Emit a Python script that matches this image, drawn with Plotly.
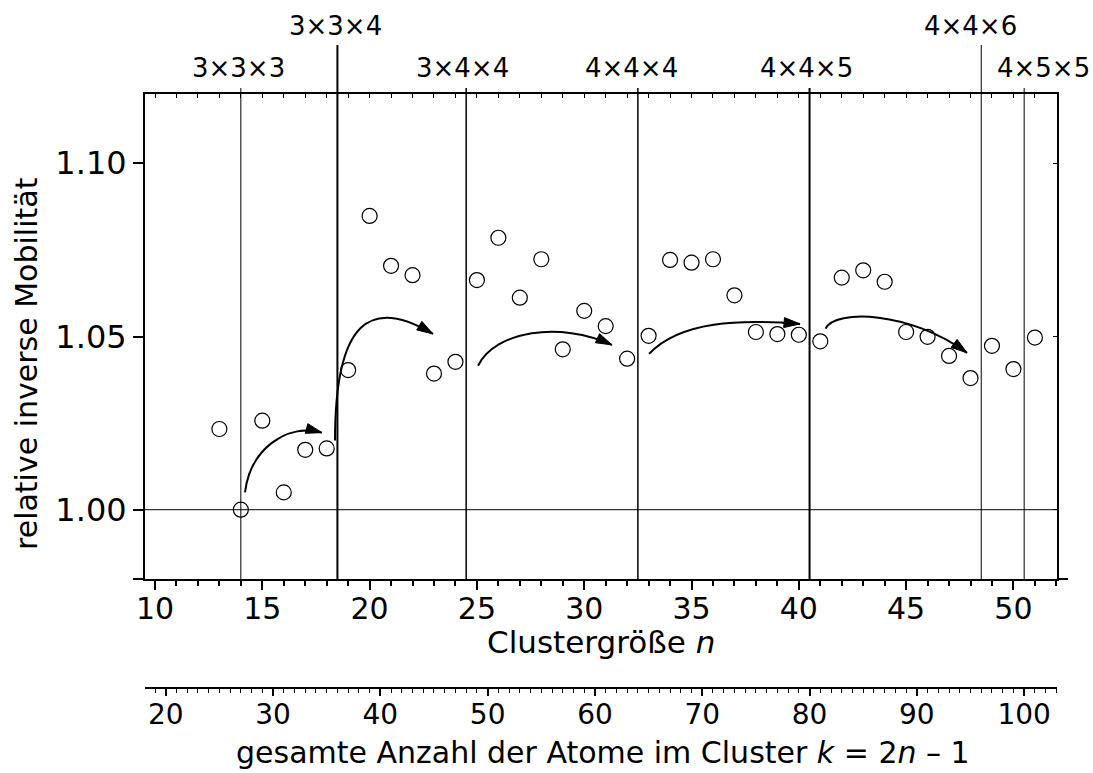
import math
import plotly.graph_objects as go

# ---------------- data ----------------
n_vals = list(range(13, 52))
inv_mob = [1.0233, 1.0000, 1.0257, 1.0050, 1.0173, 1.0177, 1.0403, 1.0848, 1.0704, 1.0677,
           1.0393, 1.0427, 1.0663, 1.0785, 1.0612, 1.0723, 1.0463, 1.0574, 1.0530, 1.0436,
           1.0502, 1.0721, 1.0713, 1.0723, 1.0619, 1.0513, 1.0507, 1.0505, 1.0486, 1.0670,
           1.0691, 1.0658, 1.0513, 1.0499, 1.0444, 1.0380, 1.0473, 1.0406, 1.0497]

shell_n = [14, 18.5, 24.5, 32.5, 40.5, 48.5, 50.5]
shell_width = [1, 2, 1.5, 1.5, 2, 1, 1]
shell_tall = [False, True, False, False, False, True, False]
shell_labels = ["3×3×3", "3×3×4", "3×4×4", "4×4×4", "4×4×5", "4×4×6", "4×5×5"]
label_n = [13.87, 18.43, 24.33, 32.20, 40.34, 48.02, 51.38]

# curved arrows: cubic Bezier control points (n, value)
arrow1 = [(14.194, 1.00498), (14.427, 1.01707), (16.058, 1.02513), (17.782, 1.02225)]
arrow2 = [(18.388, 1.01995), (18.388, 1.05449), (20.019, 1.06169), (22.954, 1.05075)]
arrow3 = [(25.051, 1.04154), (25.843, 1.05162), (28.872, 1.05449), (31.295, 1.04758)]
arrow4 = [(33.019, 1.04499), (34.464, 1.05449), (37.260, 1.05507), (40.056, 1.05363)]
arrow5 = [(41.244, 1.05227), (41.687, 1.05794), (45.182, 1.05737), (47.838, 1.04528)]
arrows = [arrow1, arrow2, arrow3, arrow4, arrow5]

y_ticks = [1.00, 1.05, 1.10]
y_ticktext = ["1.00", "1.05", "1.10"]

# ---------------- layout constants ----------------
W, H = 1093, 773
ML, MR, MT, MB = 145, 36, 94, 60
PW = W - ML - MR
PH = H - MT - MB
BOX_BOTTOM_PX = 579
SEC_AXIS_PX = 688
y_dom0 = (H - MB - BOX_BOTTOM_PX) / PH
x2_pos = (H - MB - SEC_AXIS_PX) / PH

x_range = [9.534, 52.03]
y_range = [0.98, 1.12]
k_range = [2 * x_range[0] - 1, 2 * x_range[1] - 1]

ppx = PW / (x_range[1] - x_range[0])
ppy = (PH * (1 - y_dom0)) / (y_range[1] - y_range[0])

FONT = "DejaVu Sans, Liberation Sans, Arial, sans-serif"
XTICKFONT = dict(family=FONT, size=30, color="black")
X2TICKFONT = dict(family=FONT, size=28, color="black")
YTICKFONT = dict(family=FONT, size=32, color="black")


def py(px_from_top):
    return (H - MB - px_from_top) / PH


def pxx(px_from_left):
    return (px_from_left - ML) / PW


fig = go.Figure()

fig.add_trace(go.Scatter(
    x=n_vals, y=inv_mob, mode="markers",
    marker=dict(symbol="circle-open", size=15, color="black", line=dict(width=1.2, color="black")),
    hoverinfo="skip", showlegend=False, xaxis="x", yaxis="y"))

# invisible helper traces so auxiliary axes are drawn
fig.add_trace(go.Scatter(x=[2 * n - 1 for n in n_vals], y=inv_mob, mode="markers",
                         marker=dict(opacity=0), hoverinfo="skip", showlegend=False,
                         xaxis="x2", yaxis="y"))
fig.add_trace(go.Scatter(x=n_vals, y=inv_mob, mode="markers",
                         marker=dict(opacity=0), hoverinfo="skip", showlegend=False,
                         xaxis="x3", yaxis="y"))
fig.add_trace(go.Scatter(x=n_vals, y=inv_mob, mode="markers",
                         marker=dict(opacity=0), hoverinfo="skip", showlegend=False,
                         xaxis="x", yaxis="y2"))

shapes = []
shapes.append(dict(type="line", xref="paper", yref="y", x0=0, x1=1, y0=1.0, y1=1.0,
                   line=dict(color="black", width=1)))
for xn, w, tall in zip(shell_n, shell_width, shell_tall):
    top_px = 45 if tall else 88
    shapes.append(dict(type="line", xref="x", yref="paper", x0=xn, x1=xn,
                       y0=y_dom0, y1=py(top_px),
                       line=dict(color="black", width=w)))
shapes.append(dict(type="line", xref="paper", yref="paper", x0=-12 / PW, x1=0,
                   y0=y_dom0, y1=y_dom0, line=dict(color="black", width=2)))
shapes.append(dict(type="line", xref="paper", yref="paper", x0=1, x1=1 + 11 / PW,
                   y0=y_dom0, y1=y_dom0, line=dict(color="black", width=2)))

HEAD_L, HEAD_W = 16, 10
for pts in arrows:
    (x0, y0), (x1, y1), (x2, y2), (x3, y3) = pts
    shapes.append(dict(type="path", xref="x", yref="y",
                       path=f"M {x0},{y0} C {x1},{y1} {x2},{y2} {x3},{y3}",
                       line=dict(color="black", width=2)))
    dxp = (x3 - x2) * ppx
    dyp = (y3 - y2) * ppy
    L = math.hypot(dxp, dyp)
    ux, uy = dxp / L, dyp / L
    bx = x3 - HEAD_L * ux / ppx
    by = y3 - HEAD_L * uy / ppy
    qx, qy = -uy, ux
    c1x = bx + qx * HEAD_W / 2 / ppx
    c1y = by + qy * HEAD_W / 2 / ppy
    c2x = bx - qx * HEAD_W / 2 / ppx
    c2y = by - qy * HEAD_W / 2 / ppy
    shapes.append(dict(type="path", xref="x", yref="y",
                       path=f"M {x3},{y3} L {c1x},{c1y} L {c2x},{c2y} Z",
                       fillcolor="black", line=dict(color="black", width=1)))

annotations = []
for lab, xn, tall in zip(shell_labels, label_n, shell_tall):
    ypx = 26 if tall else 68
    annotations.append(dict(text=lab, x=xn, xref="x", y=py(ypx), yref="paper",
                            showarrow=False, xanchor="center", yanchor="middle",
                            font=dict(family=FONT, size=26, color="black")))

annotations.append(dict(text="relative inverse Mobilität", textangle=-90,
                        x=pxx(26), xref="paper", y=py(364), yref="paper",
                        showarrow=False, xanchor="center", yanchor="middle",
                        font=dict(family=FONT, size=30, color="black")))
annotations.append(dict(text="Clustergröße <i>n</i>",
                        x=pxx(601), xref="paper", y=py(642), yref="paper",
                        showarrow=False, xanchor="center", yanchor="middle",
                        font=dict(family=FONT, size=31, color="black")))
annotations.append(dict(text="gesamte Anzahl der Atome im Cluster <i>k</i> = 2<i>n</i> – 1",
                        x=pxx(603), xref="paper", y=py(772), yref="paper",
                        showarrow=False, xanchor="center", yanchor="bottom",
                        font=dict(family=FONT, size=30, color="black")))

fig.update_layout(
    width=W, height=H,
    margin=dict(l=ML, r=MR, t=MT, b=MB, pad=0),
    paper_bgcolor="white", plot_bgcolor="rgba(0,0,0,0)",
    showlegend=False,
    font=dict(family=FONT, color="black"),
    xaxis=dict(domain=[0, 1], range=x_range, anchor="y",
               showline=True, linewidth=2, linecolor="black",
               showgrid=False, zeroline=False,
               ticks="outside", tickmode="linear", tick0=10, dtick=5,
               ticklen=9, tickwidth=1.5, tickcolor="black", tickfont=XTICKFONT,
               ticklabelstandoff=-7,
               minor=dict(ticks="outside", dtick=1, tick0=0, ticklen=5, tickwidth=1.5,
                          tickcolor="black", showgrid=False)),
    xaxis2=dict(domain=[0, 1], range=k_range, anchor="free", position=x2_pos,
                showline=True, linewidth=2, linecolor="black",
                showgrid=False, zeroline=False,
                ticks="outside", tickmode="linear", tick0=20, dtick=10,
                ticklen=7, tickwidth=1.5, tickcolor="black", tickfont=X2TICKFONT,
                ticklabelstandoff=-6,
                minor=dict(ticks="outside", dtick=1, tick0=0, ticklen=4, tickwidth=1,
                           tickcolor="black", showgrid=False)),
    xaxis3=dict(range=x_range, overlaying="x", side="top", anchor="y",
                showline=True, linewidth=2, linecolor="black",
                showgrid=False, zeroline=False,
                ticks="inside", tickmode="linear", tick0=10, dtick=1,
                ticklen=4, tickwidth=1, tickcolor="black", showticklabels=False),
    yaxis=dict(domain=[y_dom0, 1], range=y_range, anchor="x",
               showline=True, linewidth=2, linecolor="black",
               showgrid=False, zeroline=False,
               ticks="outside", tickmode="array", tickvals=y_ticks, ticktext=y_ticktext,
               ticklen=10, tickwidth=1.5, tickcolor="black", tickfont=YTICKFONT),
    yaxis2=dict(range=y_range, overlaying="y", side="right", anchor="x",
                showline=True, linewidth=2, linecolor="black",
                showgrid=False, zeroline=False,
                ticks="inside", tickmode="array", tickvals=y_ticks,
                ticklen=4, tickwidth=1, tickcolor="black", showticklabels=False),
    shapes=shapes,
    annotations=annotations,
)

fig.write_html("out.html")
